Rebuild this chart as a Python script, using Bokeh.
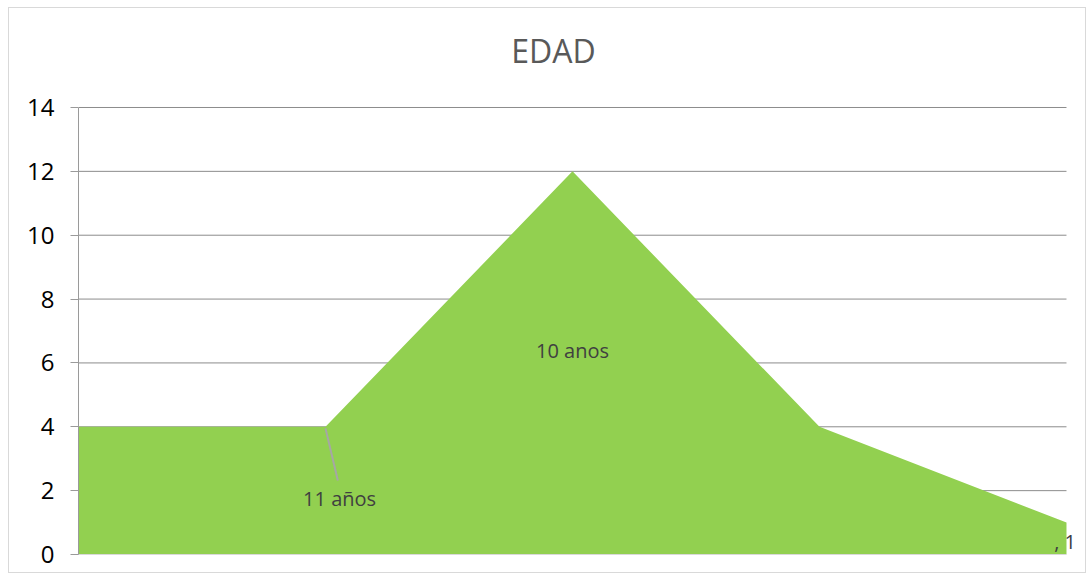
from bokeh.plotting import figure
from bokeh.models import Range1d, LinearAxis, FixedTicker, Label
from bokeh.embed import file_html
from bokeh.resources import INLINE
from bokeh.core.properties import value

# data
title_text = "EDAD"
categories = ["11 años", "", "10 anos", "", ", 1"]
x_pos = [0, 1, 2, 3, 4]
counts = [4, 4, 12, 4, 1]
y_ticks = [0, 2, 4, 6, 8, 10, 12, 14]

FONT = "Open Sans"
X_MAX = 4
Y_MAX = 14

p = figure(width=1078, height=566, output_backend="svg", toolbar_location=None,
           x_range=Range1d(0, 4.0648), y_range=Range1d(0, 16.787),
           x_axis_type=None, y_axis_type=None,
           min_border_left=69, min_border_right=5, min_border_top=10, min_border_bottom=20)
p.outline_line_color = None
p.styles = {"border": "1px solid #d9d9d9", "box-sizing": "border-box",
            "margin-left": "8px", "margin-top": "7px"}

yaxis = LinearAxis(ticker=FixedTicker(ticks=y_ticks), bounds=(0, Y_MAX))
yaxis.axis_line_color = "#9a9a9a"
yaxis.major_tick_line_color = "#9a9a9a"
yaxis.major_tick_out = 8
yaxis.major_tick_in = 0
yaxis.minor_tick_line_color = None
yaxis.major_label_text_font = FONT
yaxis.major_label_text_font_size = "24px"
yaxis.major_label_text_color = "#000000"
yaxis.major_label_standoff = 16
p.add_layout(yaxis, "left")

xaxis = LinearAxis(ticker=FixedTicker(ticks=[]), bounds=(0, X_MAX))
xaxis.axis_line_color = "#d9d9d9"
xaxis.major_tick_line_color = None
xaxis.minor_tick_line_color = None
xaxis.major_label_text_font_size = "0px"
p.add_layout(xaxis, "below")

# horizontal gridlines spanning the category extent only
grid_y = y_ticks[1:]
p.segment(x0=[0] * len(grid_y), x1=[X_MAX] * len(grid_y), y0=grid_y, y1=grid_y,
          line_color="#8c8c8c", line_width=1)

p.varea(x=x_pos, y1=[0] * len(counts), y2=counts, fill_color="#92d050")

# title
p.add_layout(Label(x=1.923, y=15.79, text=title_text, text_align="center", text_baseline="middle",
                   text_font=FONT, text_font_size="32px", text_color="#595959"))

# data labels
p.segment(x0=[x_pos[1]], y0=[counts[1] - 0.05], x1=[x_pos[1] + 0.05], y1=[2.32],
          line_color="#a6a6a6", line_width=2)
p.text(x=[1.057], y=[1.75], text=[categories[0]], text_align="center", text_baseline="middle",
       text_font=value(FONT), text_font_size="20px", text_color="#404040")
p.text(x=[x_pos[2]], y=[6.4], text=[categories[2]], text_align="center", text_baseline="middle",
       text_font=value(FONT), text_font_size="20px", text_color="#404040")
p.text(x=[3.95], y=[0.42], text=[categories[4]], text_align="left", text_baseline="middle",
       text_font=value(FONT), text_font_size="20px", text_color="#404040")

open("out.html", "w").write(file_html(p, INLINE))
